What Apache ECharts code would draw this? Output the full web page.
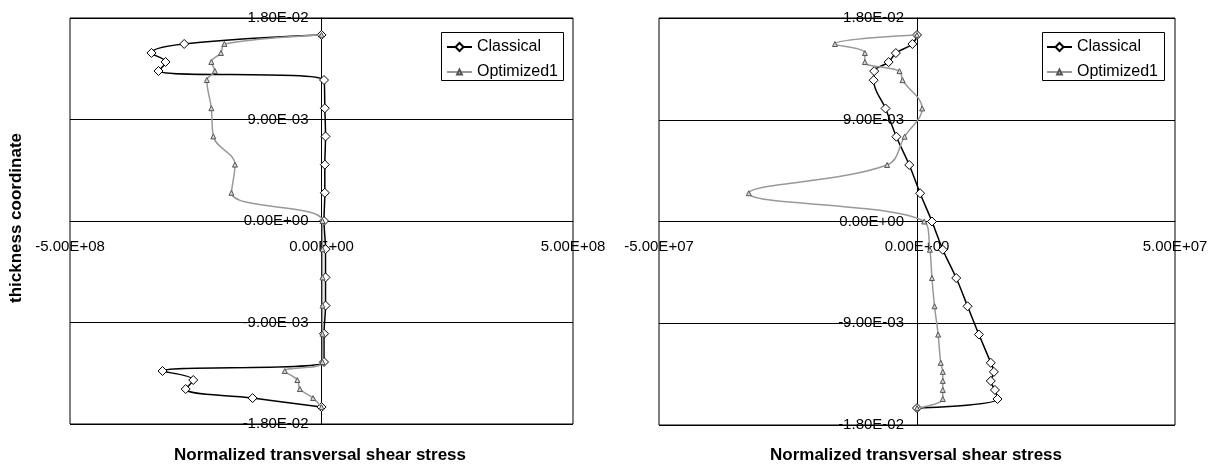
<!DOCTYPE html>
<html>
<head>
<meta charset="utf-8">
<script src="https://cdn.jsdelivr.net/npm/echarts/dist/echarts.min.js"></script>
<style>
  html, body { margin: 0; padding: 0; background: #fff; }
  #chart { width: 1221px; height: 465px; }
</style>
</head>
<body>
<div id="chart"></div>
<script>
// Through-thickness positions shared by every profile (top surface to bottom surface)
const thickness = [0.0165, 0.0157, 0.0149, 0.0141, 0.0133, 0.0125, 0.01, 0.0075, 0.005, 0.0025, 0,
  -0.0025, -0.005, -0.0075, -0.01, -0.0125, -0.0133, -0.0141, -0.0149, -0.0157, -0.0165];

// Left panel: normalized transversal shear stress
const leftClassical = [0, -2.73e8, -3.38e8, -3.10e8, -3.24e8, 5e6, 6.6e6, 8e6, 6.6e6, 6.6e6, 5e6,
  8e6, 8e6, 8e6, 5e6, 5e6, -3.16e8, -2.55e8, -2.70e8, -1.37e8, 0];
const leftOptimized = [0, -1.93e8, -2.00e8, -2.19e8, -2.12e8, -2.28e8, -2.19e8, -2.15e8, -1.72e8, -1.79e8, 2e6,
  2e6, 2e6, 2e6, 2e6, 2e6, -7.3e7, -4.8e7, -4.3e7, -1.67e7, 0];

// Right panel: normalized transversal shear stress
const rightClassical = [0, -0.9e6, -4.1e6, -5.5e6, -8.3e6, -8.4e6, -6.1e6, -4.0e6, -1.5e6, 0.6e6, 2.9e6,
  5.0e6, 7.6e6, 9.8e6, 12.0e6, 14.3e6, 14.9e6, 14.3e6, 15.1e6, 15.6e6, 0];
const rightOptimized = [0, -15.9e6, -10.1e6, -10.1e6, -3.4e6, -2.8e6, 1.0e6, -2.4e6, -5.8e6, -32.6e6, 1.4e6,
  2.5e6, 2.9e6, 3.4e6, 4.1e6, 4.6e6, 5.0e6, 5.0e6, 5.0e6, 5.0e6, 0];

// Axis extents and tick labels
const leftXRange = [-5e8, 5e8];
const rightXRange = [-5e7, 5e7];
const yRange = [-0.018, 0.018];
const yStep = 0.009;
const seriesNames = ['Classical', 'Optimized1'];
const xTitle = 'Normalized transversal shear stress';
const yTitle = 'thickness coordinate';

const FONT = 'Liberation Sans, Arial, sans-serif';

// Excel-style scientific notation: 1.80E-02
function sci(v) {
  const s = Number(v).toExponential(2);
  const [m, e] = s.split('e');
  const sign = e[0] === '-' ? '-' : '+';
  const digits = e.replace(/[+-]/, '').padStart(2, '0');
  return m + 'E' + sign + digits;
}

function pairs(xs) {
  return thickness.map((y, i) => [xs[i], y]);
}

const grids = [
  { left: 70, top: 18, width: 503, height: 406 },
  { left: 659, top: 18, width: 516, height: 407 }
];

// Both ranges are symmetric, so the crossing axes sit half a plot away from the edges
function xAxisFor(gi, range) {
  return {
    type: 'value', gridIndex: gi, min: range[0], max: range[1], interval: range[1],
    offset: -grids[gi].height / 2,
    axisLine: { show: true, onZero: false, lineStyle: { color: '#000', width: 1 } },
    axisTick: { show: false },
    splitLine: { show: false },
    axisLabel: { formatter: sci, margin: 18, color: '#000', fontSize: 15, fontFamily: FONT }
  };
}

function yAxisFor(gi) {
  return {
    type: 'value', gridIndex: gi, min: yRange[0], max: yRange[1], interval: yStep,
    offset: -grids[gi].width / 2,
    axisLine: { show: true, onZero: false, lineStyle: { color: '#000', width: 1 } },
    axisTick: { show: false },
    splitLine: { show: true, lineStyle: { color: '#000', width: 1 } },
    axisLabel: { formatter: sci, margin: 13, color: '#000', fontSize: 15, fontFamily: FONT }
  };
}

function classicalSeries(gi, xs) {
  return {
    name: seriesNames[0], type: 'line', xAxisIndex: gi, yAxisIndex: gi,
    data: pairs(xs), smooth: 0.4,
    symbol: 'diamond', symbolSize: 9,
    lineStyle: { color: '#000', width: 1.5 },
    itemStyle: { color: '#fff', borderColor: '#000', borderWidth: 1 },
    emphasis: { disabled: true }, z: 3
  };
}

function optimizedSeries(gi, xs) {
  return {
    name: seriesNames[1], type: 'line', xAxisIndex: gi, yAxisIndex: gi,
    data: pairs(xs), smooth: 0.4,
    symbol: 'triangle', symbolSize: 5,
    lineStyle: { color: '#999', width: 1.5 },
    itemStyle: { color: '#d4d4d4', borderColor: '#555', borderWidth: 1 },
    emphasis: { disabled: true }, z: 4
  };
}

// One legend per entry so each key symbol keeps its own size
function legendItem(name, left, top, symbolHeight) {
  return {
    data: [name], orient: 'vertical', left: left, top: top,
    padding: 0, itemWidth: 25, itemHeight: symbolHeight,
    textStyle: { color: '#000', fontSize: 16, lineHeight: 16, fontFamily: FONT },
    selectedMode: false, z: 10
  };
}

function legendFrame(x, y) {
  return {
    type: 'rect', shape: { x: x, y: y, width: 122, height: 48 },
    style: { fill: '#fff', stroke: '#000', lineWidth: 1 }, z: 5
  };
}

const chart = echarts.init(document.getElementById('chart'), null, { renderer: 'canvas' });
chart.setOption({
  backgroundColor: '#fff',
  animation: false,
  grid: grids.map(g => Object.assign({
    show: true, borderColor: '#000', borderWidth: 1, backgroundColor: 'transparent',
    containLabel: false, outerBoundsMode: 'none'
  }, g)),
  xAxis: [xAxisFor(0, leftXRange), xAxisFor(1, rightXRange)],
  yAxis: [yAxisFor(0), yAxisFor(1)],
  legend: [
    legendItem(seriesNames[0], 446, 39, 10),
    legendItem(seriesNames[1], 446, 64, 6),
    legendItem(seriesNames[0], 1046, 39, 10),
    legendItem(seriesNames[1], 1046, 64, 6)
  ],
  series: [
    classicalSeries(0, leftClassical), optimizedSeries(0, leftOptimized),
    classicalSeries(1, rightClassical), optimizedSeries(1, rightOptimized)
  ],
  graphic: [
    legendFrame(441.5, 32.5),
    legendFrame(1042.5, 32.5),
    { type: 'text', x: 16, y: 218, rotation: Math.PI / 2,
      style: { text: yTitle, font: 'bold 17px ' + FONT, fill: '#000', textAlign: 'center', textVerticalAlign: 'middle' } },
    { type: 'text', x: 320, y: 455,
      style: { text: xTitle, font: 'bold 17px ' + FONT, fill: '#000', textAlign: 'center', textVerticalAlign: 'middle' } },
    { type: 'text', x: 916, y: 455,
      style: { text: xTitle, font: 'bold 17px ' + FONT, fill: '#000', textAlign: 'center', textVerticalAlign: 'middle' } }
  ]
});
</script>
</body>
</html>
